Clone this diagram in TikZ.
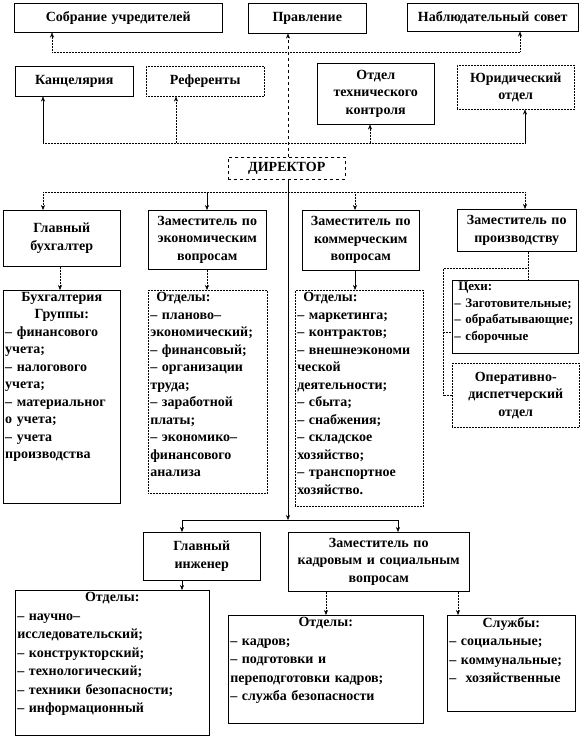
\documentclass[tikz,border=0pt]{standalone}
\usepackage{fontspec}
\setmainfont{Liberation Serif}
\usetikzlibrary{arrows.meta}

\newcommand{\unitfont}{\fontsize{14}{17.5}\selectfont\bfseries}
\newcommand{\toplist}[2]{\parbox[t][#1][t]{\linewidth}{#2}}

\tikzset{
  unit/.style={draw, line width=0.5pt, anchor=north west, align=center, inner sep=2pt, font=\unitfont},
  dotunit/.style={unit, densely dotted},
  wh/.style 2 args={minimum width=#1pt, minimum height=#2pt, text width=#1pt-4pt},
  arr/.style={-{Stealth[length=5pt,width=4pt]}},
  link/.style={line width=0.5pt},
  dotlink/.style={link, densely dotted},
}

\begin{document}
\begin{tikzpicture}[x=1pt, y=-1pt]
    \useasboundingbox (0,0) rectangle (582,738);

    % Governing bodies
    \node[unit, wh={208}{29}] (sobr) at (14,3) {Собрание учредителей};
    \node[unit, wh={118}{30}] (prav) at (248,3) {Правление};
    \node[unit, wh={171}{28}] (nabl) at (407,3) {Наблюдательный совет};

    % Staff units
    \node[unit, wh={118}{30}] (kanc) at (15,66) {Канцелярия};
    \node[dotunit, wh={118}{30}] (ref) at (146,66) {Референты};
    \node[unit, wh={117}{61}] (otk) at (317,63) {Отдел\\технического\\контроля};
    \node[dotunit, wh={117}{44}] (yur) at (457,65) {Юридический\\отдел};

    \node[unit, dashed, wh={117}{22}] (dir) at (228,157) {ДИРЕКТОР};

    % Deputies
    \node[unit, wh={117}{56}] (glbuh) at (3,210) {Главный\\бухгалтер};
    \node[unit, wh={118}{59}] (zamek) at (148,210) {Заместитель по\\экономическим\\вопросам};
    \node[unit, wh={117}{60}] (zamkom) at (302,210) {Заместитель по\\коммерческим\\вопросам};
    \node[unit, wh={119}{42}] (zampr) at (457,209) {Заместитель по\\производству};

    % Departments
    \node[unit, wh={117}{213}] (buh) at (3,290) {\toplist{209pt}{{\centering Бухгалтерия\\Группы:\par}\raggedright
      – финансового\\учета;\\– налогового\\учета;\\– материальног\\о учета;\\– учета\\производства}};
    \node[dotunit, wh={119}{203}] (otdek) at (148,290) {\toplist{199pt}{\raggedright
      \hspace*{6pt}Отделы:\\– планово–\\экономический;\\– финансовый;\\– организации\\труда;\\– заработной\\платы;\\– экономико–\\финансового\\анализа}};
    \node[dotunit, wh={128}{216}] (otdkom) at (295,290) {\toplist{212pt}{\raggedright
      \hspace*{6pt}Отделы:\\– маркетинга;\\– контрактов;\\– внешнеэкономи\\ческой\\деятельности;\\– сбыта;\\– снабжения;\\– складское\\хозяйство;\\– транспортное\\хозяйство.}};
    \node[unit, wh={126}{73}] (ceh) at (452,280) {\toplist{69pt}{\fontsize{13}{16.5}\selectfont\raggedright
      \hspace*{4pt}Цехи:\\– Заготовительные;\\– обрабатывающие;\\– сборочные}};
    \node[dotunit, wh={127}{64}] (oper) at (452,363) {Оперативно-\\диспетчерский\\отдел};

    % Lower level
    \node[unit, wh={117}{48}] (glinzh) at (143,532) {Главный\\инженер};
    \node[unit, wh={181}{59}] (zamkadr) at (288,532) {Заместитель по\\кадровым и социальным\\вопросам};
    \node[unit, wh={194}{145}] (otdinzh) at (15,590) {\toplist{141pt}{\fontsize{14}{18.5}\selectfont
      {\centering Отделы:\par}\raggedright
      – научно–\\исследовательский;\\– конструкторский;\\– технологический;\\– техники безопасности;\\– информационный}};
    \node[unit, wh={195}{108}] (otdkadr) at (228,615) {\toplist{104pt}{\fontsize{14}{18.5}\selectfont
      {\centering Отделы:\par}\raggedright
      – кадров;\\– подготовки и\\переподготовки кадров;\\– служба безопасности}};
    \node[unit, wh={128}{96}] (sluzh) at (447,615) {\toplist{92pt}{\fontsize{14}{18.5}\selectfont
      {\centering Службы:\par}\raggedright
      – социальные;\\– коммунальные;\\– \ хозяйственные}};

    % Upward links
    \coordinate (topbus) at (288,52);
    \coordinate (midbus) at (288,143);
    \draw[link, dashed, arr] (dir.north -| topbus) -- (prav.south -| topbus);
    \draw[dotlink, arr] (topbus) -| ([xshift=38]sobr.south west);
    \draw[dotlink, arr] (topbus) -| ([xshift=113]nabl.south west);
    \draw[dotlink] ([xshift=28]kanc.south west |- midbus) -- ([xshift=68]yur.south west |- midbus);
    \draw[link, arr] ([xshift=28]kanc.south west |- midbus) -- ([xshift=28]kanc.south west);
    \draw[dotlink, arr] ([xshift=30]ref.south west |- midbus) -- ([xshift=30]ref.south west);
    \draw[dotlink, arr] ([xshift=53]otk.south west |- midbus) -- ([xshift=53]otk.south west);
    \draw[link, arr] ([xshift=68]yur.south west |- midbus) -- ([xshift=68]yur.south west);

    % Downward links
    \coordinate (lowbus) at (288,192);
    \coordinate (botbus) at (288,520);
    \draw[dotlink] ([xshift=40]glbuh.north west |- lowbus) -- ([xshift=68]zampr.north west |- lowbus);
    \draw[dotlink, arr] ([xshift=40]glbuh.north west |- lowbus) -- ([xshift=40]glbuh.north west);
    \draw[link, arr] ([xshift=59]zamek.north west |- lowbus) -- ([xshift=59]zamek.north west);
    \draw[dotlink, arr] ([xshift=53]zamkom.north west |- lowbus) -- ([xshift=53]zamkom.north west);
    \draw[dotlink, arr] ([xshift=68]zampr.north west |- lowbus) -- ([xshift=68]zampr.north west);

    \draw[dotlink, arr] ([xshift=57]glbuh.south west) -- ([xshift=57]glbuh.south west |- buh.north);
    \draw[dotlink, arr] ([xshift=59]zamek.south west) -- ([xshift=59]zamek.south west |- otdek.north);
    \draw[link, arr] ([xshift=53]zamkom.south west) -- ([xshift=53]zamkom.south west |- otdkom.north);

    % Production bracket
    \coordinate (prbr) at (443,268);
    \draw[dotlink] ([xshift=71]zampr.south west) -- ([xshift=71]zampr.south west |- ceh.north);
    \draw[dotlink] ([xshift=71]zampr.south west |- prbr) -- (prbr) |- (oper.west);
    \draw[dotlink] ([yshift=21]ceh.south west) -- ([yshift=21]ceh.south west -| prbr);

    % Main axis and lower level
    \draw[link, arr] (dir.south -| botbus) -- (botbus);
    \draw[link] ([xshift=39]glinzh.north west |- botbus) -- ([xshift=110]zamkadr.north west |- botbus);
    \draw[link, arr] ([xshift=39]glinzh.north west |- botbus) -- ([xshift=39]glinzh.north west);
    \draw[link, arr] ([xshift=110]zamkadr.north west |- botbus) -- ([xshift=110]zamkadr.north west);
    \draw[link, arr] ([xshift=39]glinzh.south west) -- ([xshift=39]glinzh.south west |- otdinzh.north);
    \draw[dotlink, arr] ([xshift=38]zamkadr.south west) -- ([xshift=38]zamkadr.south west |- otdkadr.north);
    \draw[dotlink, arr] ([xshift=170]zamkadr.south west) -- ([xshift=170]zamkadr.south west |- sluzh.north);
\end{tikzpicture}
\end{document}
